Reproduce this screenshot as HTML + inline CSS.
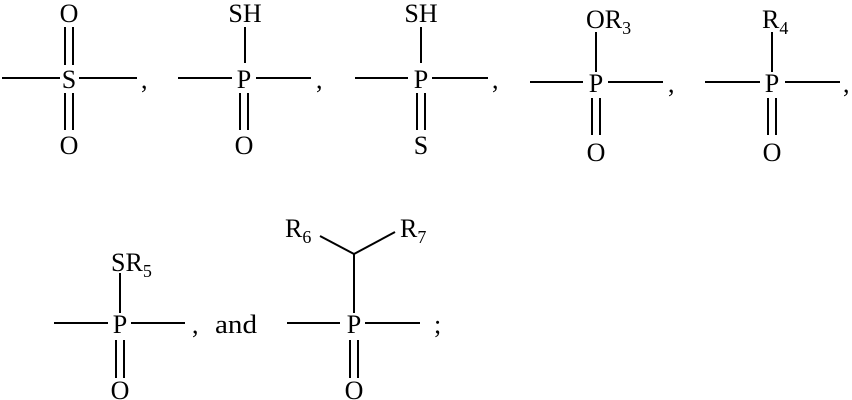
<!DOCTYPE html>
<html><head><style>html,body{margin:0;padding:0;background:#fff}svg{display:block}text{font-family:"Liberation Serif",serif;font-size:26px;fill:#000}</style></head>
<body>
<svg width="852" height="400" viewBox="0 0 852 400" xmlns="http://www.w3.org/2000/svg">
<g stroke="#000" stroke-width="2" fill="none">
<line x1="2" y1="78" x2="60" y2="78"/><line x1="79" y1="78" x2="137" y2="78"/>
<line x1="65" y1="27" x2="65" y2="65"/><line x1="73" y1="27" x2="73" y2="65"/>
<line x1="65" y1="93" x2="65" y2="130"/><line x1="73" y1="93" x2="73" y2="130"/>
<line x1="178" y1="78" x2="232" y2="78"/><line x1="256" y1="78" x2="311" y2="78"/>
<line x1="245" y1="27" x2="245" y2="63"/>
<line x1="240" y1="93" x2="240" y2="130"/><line x1="248" y1="93" x2="248" y2="130"/>
<line x1="355" y1="78" x2="408" y2="78"/><line x1="432" y1="78" x2="488" y2="78"/>
<line x1="421" y1="27" x2="421" y2="63"/>
<line x1="417" y1="93" x2="417" y2="130"/><line x1="425" y1="93" x2="425" y2="130"/>
<line x1="530" y1="82" x2="583" y2="82"/><line x1="608" y1="82" x2="663" y2="82"/>
<line x1="596" y1="32" x2="596" y2="72"/>
<line x1="592" y1="98" x2="592" y2="135"/><line x1="600" y1="98" x2="600" y2="135"/>
<line x1="705" y1="82" x2="760" y2="82"/><line x1="785" y1="82" x2="840" y2="82"/>
<line x1="772" y1="32" x2="772" y2="72"/>
<line x1="768" y1="98" x2="768" y2="135"/><line x1="776" y1="98" x2="776" y2="135"/>
<line x1="54" y1="323" x2="108" y2="323"/><line x1="131" y1="323" x2="185" y2="323"/>
<line x1="120" y1="273" x2="120" y2="313"/>
<line x1="116" y1="340" x2="116" y2="378"/><line x1="124" y1="340" x2="124" y2="378"/>
<line x1="287" y1="323" x2="340" y2="323"/><line x1="365" y1="323" x2="420" y2="323"/>
<line x1="354" y1="254" x2="354" y2="313"/>
<line x1="354" y1="254" x2="320" y2="236"/><line x1="354" y1="254" x2="395" y2="232"/>
<line x1="350" y1="340" x2="350" y2="378"/><line x1="358" y1="340" x2="358" y2="378"/>
</g>
<g text-anchor="middle">
<text x="69" y="22">O</text><text x="69" y="88">S</text><text x="69" y="154">O</text>
<text x="245" y="22">SH</text><text x="244" y="88">P</text><text x="244" y="154">O</text>
<text x="421" y="22">SH</text><text x="421" y="88">P</text><text x="421" y="154">S</text>
<text x="596" y="92">P</text><text x="596" y="161">O</text>
<text x="772" y="92">P</text><text x="772" y="161">O</text>
<text x="120" y="333">P</text><text x="120" y="399">O</text>
<text x="354" y="333">P</text><text x="354" y="399">O</text>
</g>
<text x="586" y="28">OR<tspan font-size="18" dy="6">3</tspan></text>
<text x="762" y="28">R<tspan font-size="18" dy="6">4</tspan></text>
<text x="111" y="271">SR<tspan font-size="18" dy="6">5</tspan></text>
<text x="285" y="237">R<tspan font-size="18" dy="6">6</tspan></text>
<text x="400" y="237">R<tspan font-size="18" dy="6">7</tspan></text>
<text x="141" y="88">,</text><text x="316" y="88">,</text><text x="492" y="88">,</text>
<text x="668" y="92">,</text><text x="843" y="92">,</text>
<text x="192" y="333">,</text><text x="215" y="333" textLength="42" lengthAdjust="spacingAndGlyphs">and</text>
<text x="434" y="333">;</text>
</svg>
</body></html>
